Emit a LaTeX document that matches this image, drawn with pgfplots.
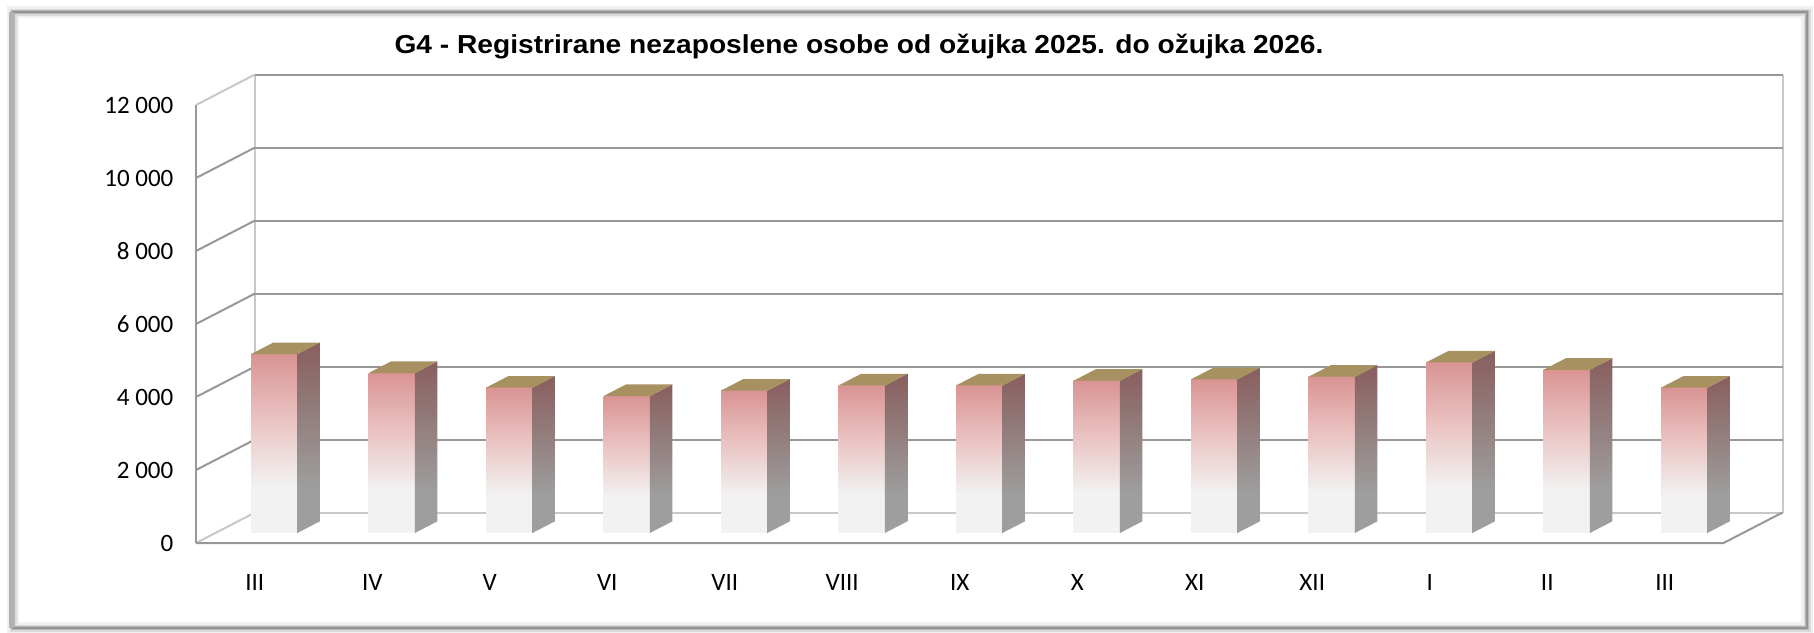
\documentclass[border=0pt]{standalone}
\usepackage{graphicx}
\usepackage{pgfplots}
\pgfplotsset{compat=1.18}
\usepackage{fontspec}
\setmainfont{Carlito}
\newfontfamily\titlefont{Liberation Sans}
\definecolor{ft}{RGB}{217,148,147}
\definecolor{fm}{RGB}{233,192,191}
\definecolor{fb}{RGB}{242,242,242}
\definecolor{st}{RGB}{137,94,94}
\definecolor{sb}{RGB}{158,158,158}
\definecolor{tp}{RGB}{168,145,97}
\definecolor{gm}{RGB}{152,152,152}
\definecolor{gl}{RGB}{200,200,200}
\pgfdeclareverticalshading{frontshade}{100bp}{color(0bp)=(fb); color(25bp)=(fb); color(38bp)=(fb); color(58bp)=(fm); color(75bp)=(ft); color(100bp)=(ft)}
\pgfdeclareverticalshading{sideshade}{100bp}{color(0bp)=(sb); color(25bp)=(sb); color(37bp)=(sb); color(75bp)=(st); color(100bp)=(st)}
\newcommand\cuboid[2]{%
 \addplot3[draw=none, shade, shading=frontshade] coordinates {(#1.3025,0.33,0) (#1.6975,0.33,0) (#1.6975,0.33,#2) (#1.3025,0.33,#2) (#1.3025,0.33,0)};
 \addplot3[draw=none, shade, shading=sideshade] coordinates {(#1.6975,0.33,0) (#1.6975,0.71,0) (#1.6975,0.71,#2) (#1.6975,0.33,#2) (#1.6975,0.33,0)};
 \addplot3[draw=none, fill=tp] coordinates {(#1.3025,0.33,#2) (#1.6975,0.33,#2) (#1.6975,0.71,#2) (#1.3025,0.71,#2) (#1.3025,0.33,#2)};
}
\begin{document}
\begin{tikzpicture}[x=0.5pt,y=-0.5pt]
\useasboundingbox (0,0) rectangle (1814,632);
\fill[white] (0,0) rectangle (1814,632);
\draw[black!6, line width=6pt] (13,12) rectangle (1807,628);
\draw[black!14, line width=3.5pt] (13,12) rectangle (1807,628);
\draw[black!28, line width=2pt] (13,12) rectangle (1807,628);
\draw[black!42, line width=1pt] (13,12) rectangle (1807,628);
\draw[black!30, line width=2.5pt] (11,12) -- (11,628);
\node[anchor=base, inner sep=0pt] at (859,53) {\scalebox{1.083}[1]{\titlefont\bfseries\fontsize{13}{15}\selectfont G4 - Registrirane nezaposlene osobe od ožujka 2025. do ožujka 2026.}};
\begin{axis}[
 at={(98pt,-271.5pt)}, anchor=origin,
 x={(58.75pt,0pt)}, y={(29.5pt,15.25pt)}, z={(0pt,0.01825pt)},
 xmin=0, xmax=13, ymin=0, ymax=1, zmin=0, zmax=12000,
 clip=false,
 axis line style={draw=none},
 major tick length=0pt,
 tick style={draw=none},
 xtick={0.5,1.5,2.5,3.5,4.5,5.5,6.5,7.5,8.5,9.5,10.5,11.5,12.5},
 xticklabels={III,IV,V,VI,VII,VIII,IX,X,XI,XII,I,II,III},
 ytick=\empty,
 ztick={0,2000,4000,6000,8000,10000,12000},
 scaled z ticks=false,
 zticklabel={\pgfmathprintnumber[fixed,precision=0,1000 sep={\ },assume math mode=true]{\tick}},
 ticklabel style={font=\fontsize{12.5}{15}\selectfont},
 zticklabel style={anchor=east, xshift=-7.8pt},
 xticklabel style={anchor=base, yshift=-23.5pt},
]
% walls
\addplot3[gl, line width=1pt] coordinates {(0,1,0) (13,1,0)};
\addplot3[gl, line width=1pt] coordinates {(0,0,0) (0,1,0)};
\addplot3[gl, line width=1pt] coordinates {(0,1,0) (0,1,12000)};
\addplot3[gl, line width=1pt] coordinates {(13,1,0) (13,1,12000)};
\addplot3[gl, line width=1pt] coordinates {(0,0,12000) (0,1,12000)};
\addplot3[gm, line width=1pt] coordinates {(0,1,2000) (13,1,2000)};
\addplot3[gm, line width=1pt] coordinates {(0,1,4000) (13,1,4000)};
\addplot3[gm, line width=1pt] coordinates {(0,1,6000) (13,1,6000)};
\addplot3[gm, line width=1pt] coordinates {(0,1,8000) (13,1,8000)};
\addplot3[gm, line width=1pt] coordinates {(0,1,10000) (13,1,10000)};
\addplot3[gm, line width=1pt] coordinates {(0,1,12000) (13,1,12000)};
\addplot3[gm, line width=1pt] coordinates {(0,0,2000) (0,1,2000)};
\addplot3[gm, line width=1pt] coordinates {(0,0,4000) (0,1,4000)};
\addplot3[gm, line width=1pt] coordinates {(0,0,6000) (0,1,6000)};
\addplot3[gm, line width=1pt] coordinates {(0,0,8000) (0,1,8000)};
\addplot3[gm, line width=1pt] coordinates {(0,0,10000) (0,1,10000)};
\addplot3[gm, line width=1pt] coordinates {(0,0,0) (0,0,12000)};
\addplot3[gm, line width=1pt] coordinates {(0,0,0) (13,0,0) (13,1,0)};
% bars
\cuboid{0}{4900}
\cuboid{1}{4380}
\cuboid{2}{3980}
\cuboid{3}{3750}
\cuboid{4}{3900}
\cuboid{5}{4040}
\cuboid{6}{4040}
\cuboid{7}{4170}
\cuboid{8}{4210}
\cuboid{9}{4280}
\cuboid{10}{4670}
\cuboid{11}{4470}
\cuboid{12}{3980}
\end{axis}
\end{tikzpicture}
\end{document}
